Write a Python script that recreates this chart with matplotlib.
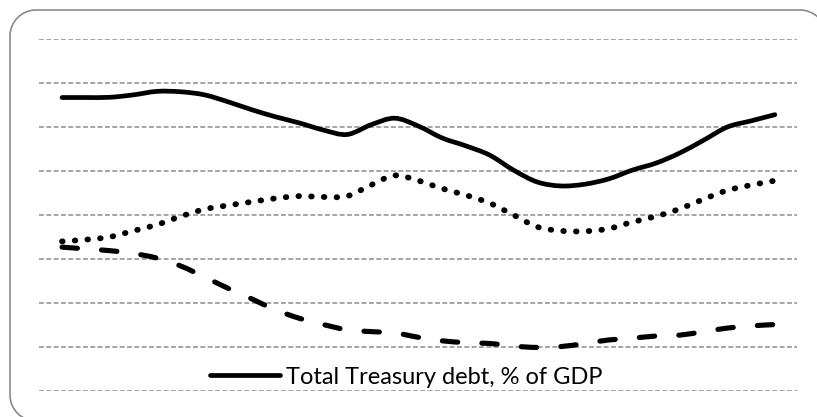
import numpy as np
import matplotlib
matplotlib.use("Agg")
import matplotlib.pyplot as plt
from matplotlib.path import Path
from matplotlib.patches import PathPatch
from matplotlib.lines import Line2D

# === DATA (% of GDP) ===
years = list(range(1980, 2011))
total_debt = [66.7, 66.7, 66.75, 67.3, 68.1, 68.0, 67.3, 65.7, 63.9, 62.3, 60.9,
              59.3, 58.3, 60.5, 62.0, 60.2, 57.5, 55.7, 53.6, 50.2, 47.5,
              46.6, 47.0, 48.2, 50.2, 51.8, 54.1, 57.0, 60.0, 61.4, 62.8]
dotted_series = [34.0, 34.4, 35.0, 36.4, 37.8, 39.7, 41.3, 42.2, 43.0, 43.8, 44.3,
                 44.1, 44.3, 46.8, 49.0, 47.8, 46.0, 44.5, 42.7, 40.0, 37.3,
                 36.4, 36.3, 36.9, 38.4, 39.7, 41.4, 43.6, 45.6, 46.8, 47.8]
dashed_series = [32.7, 32.3, 31.9, 31.25, 30.2, 28.4, 25.9, 23.3, 20.9, 18.4, 16.5,
                 15.1, 13.9, 13.5, 13.2, 12.2, 11.4, 11.0, 10.8, 10.2, 9.9,
                 10.1, 10.8, 11.6, 12.0, 12.5, 12.7, 13.5, 14.3, 14.8, 15.1]
y_ticks = [0, 10, 20, 30, 40, 50, 60, 70, 80]
legend_label = "Total Treasury debt, % of GDP"

plt.rcParams['font.family'] = ['Lato', 'DejaVu Sans']
plt.rcParams['savefig.bbox'] = 'standard'

W, H = 817, 417
fig = plt.figure(figsize=(W / 100, H / 100), dpi=100)

# background axes in pixel units (y down), only for the rounded border
bg = fig.add_axes([0, 0, 1, 1])
bg.set_xlim(0, W)
bg.set_ylim(H, 0)
bg.axis('off')

# rounded border: top and left edges with their corners; right/bottom run off the image
r, k = 26, 0.5523
x0, y0, x1, y1 = 10, 10, 826, 421
border_top = Path([(x0 + r, y0), (x1 - r, y0),
                   (x1 - r + k * r, y0), (x1, y0 + r - k * r), (x1, y0 + r)],
                  [Path.MOVETO, Path.LINETO, Path.CURVE4, Path.CURVE4, Path.CURVE4])
border_left = Path([(x0 + r, y0), (x0 + r - k * r, y0), (x0, y0 + r - k * r), (x0, y0 + r),
                    (x0, y1 - r), (x0, y1 - r + k * r), (x0 + r - k * r, y1), (x0 + r, y1)],
                   [Path.MOVETO, Path.CURVE4, Path.CURVE4, Path.CURVE4,
                    Path.LINETO, Path.CURVE4, Path.CURVE4, Path.CURVE4])
for bp in (border_top, border_left):
    bg.add_patch(PathPatch(bp, fill=False, edgecolor='#8a8a8a', linewidth=1.2))

# plot axes placed in pixel units
left, right, top, bottom = 39, 797, 39, 391
ax = fig.add_axes([left / W, (H - bottom) / H, (right - left) / W, (bottom - top) / H])
ax.set_xlim(-0.97, 30.93)
ax.set_ylim(0, 80)
ax.patch.set_visible(False)
for s in ax.spines.values():
    s.set_visible(False)
ax.set_xticks([])
ax.set_yticks(y_ticks)
ax.tick_params(left=False, labelleft=False)
ax.grid(axis='y', color='#8c8c8c', linestyle=(0, (3.2, 1.6)), linewidth=1.1)
ax.set_axisbelow(True)


def smooth_path(xs, ys):
    # Excel style smoothed line: Catmull-Rom converted to cubic Bezier
    p = np.column_stack([xs, ys]).astype(float)
    n = len(p)
    verts = [p[0]]
    codes = [Path.MOVETO]
    for i in range(n - 1):
        p0 = p[i - 1] if i > 0 else p[i]
        p3 = p[i + 2] if i + 2 < n else p[i + 1]
        c1 = p[i] + (p[i + 1] - p0) / 6.0
        c2 = p[i + 1] - (p3 - p[i]) / 6.0
        verts += [c1, c2, p[i + 1]]
        codes += [Path.CURVE4] * 3
    return Path(verts, codes)


x = np.arange(len(years))
styles = [
    (total_debt, '-', 3.4),
    (dotted_series, (0, (0.1, 2.08)), 4.2),
    (dashed_series, (0, (3.0, 4.7)), 3.7),
]
for vals, ls, lw in styles:
    patch = PathPatch(smooth_path(x, vals), fill=False, edgecolor='black',
                      linewidth=lw, linestyle=ls, capstyle='round', joinstyle='round')
    ax.add_patch(patch)

handle = Line2D([], [], color='black', linewidth=3.4, solid_capstyle='round')
leg = fig.legend([handle], [legend_label], loc='center',
                 bbox_to_anchor=(406 / W, (H - 377) / H), frameon=False,
                 fontsize=17, handlelength=2.95, handletextpad=0.25)

fig.savefig("out.png", dpi=100, bbox_inches=None)
